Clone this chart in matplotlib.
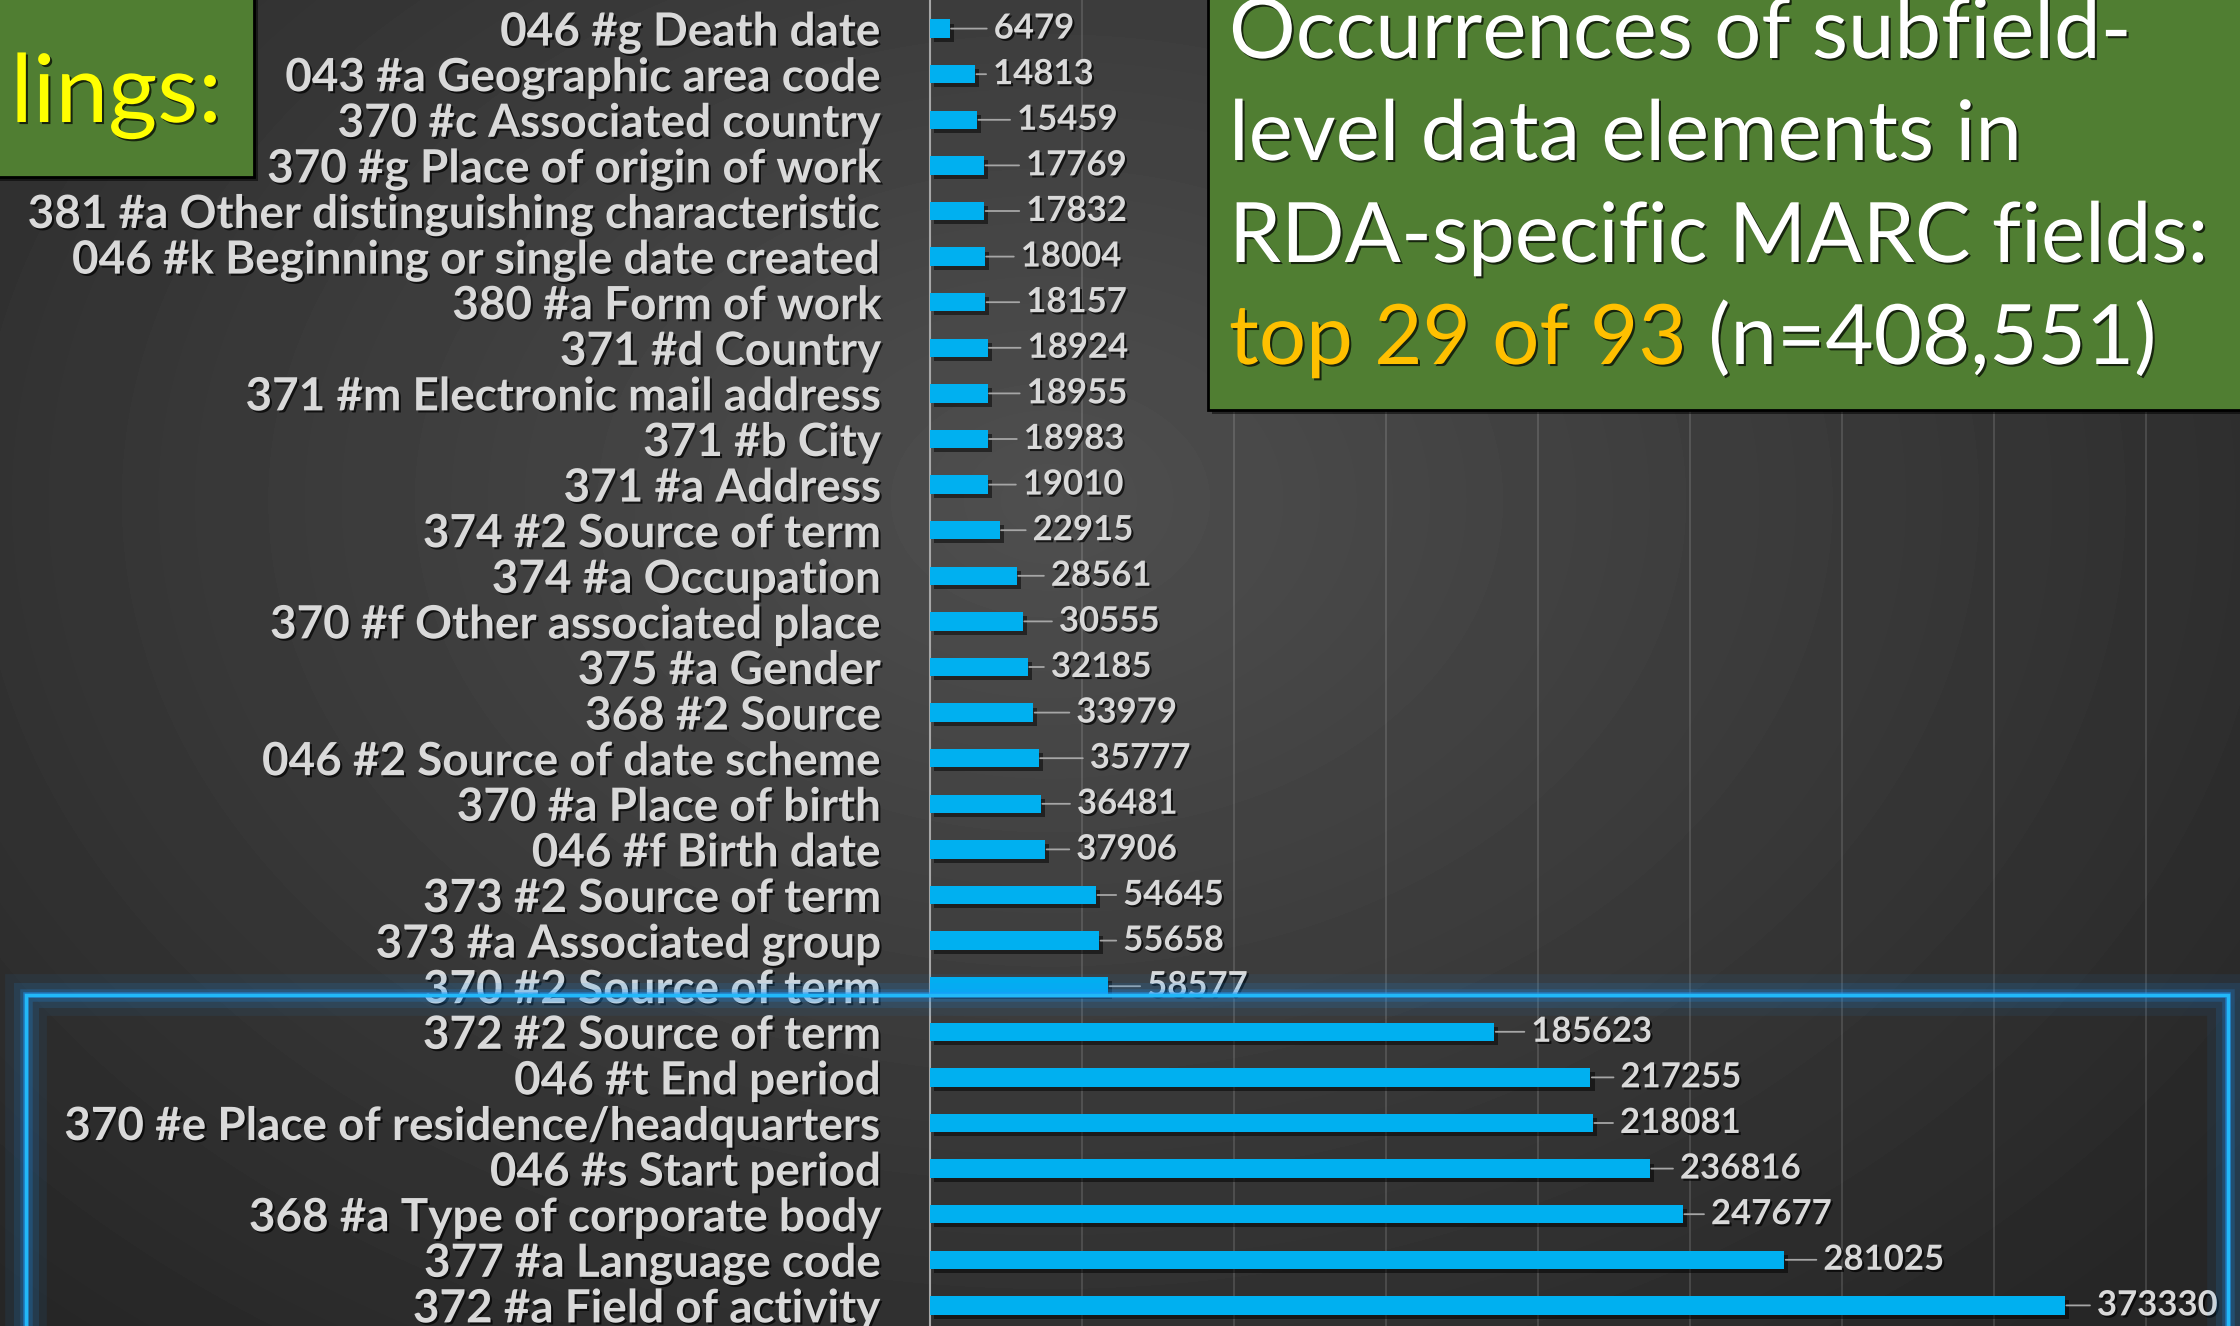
import matplotlib
matplotlib.use("Agg")
import matplotlib.pyplot as plt
import matplotlib.patheffects as pe
from matplotlib.patches import Rectangle
import numpy as np

# datos (de arriba hacia abajo)
categorias = [
    "046 #g Death date",
    "043 #a Geographic area code",
    "370 #c Associated country",
    "370 #g Place of origin of work",
    "381 #a Other distinguishing characteristic",
    "046 #k Beginning or single date created",
    "380 #a Form of work",
    "371 #d Country",
    "371 #m Electronic mail address",
    "371 #b City",
    "371 #a Address",
    "374 #2 Source of term",
    "374 #a Occupation",
    "370 #f Other associated place",
    "375 #a Gender",
    "368 #2 Source",
    "046 #2 Source of date scheme",
    "370 #a Place of birth",
    "046 #f Birth date",
    "373 #2 Source of term",
    "373 #a Associated group",
    "370 #2 Source of term",
    "372 #2 Source of term",
    "046 #t End period",
    "370 #e Place of residence/headquarters",
    "046 #s Start period",
    "368 #a Type of corporate body",
    "377 #a Language code",
    "372 #a Field of activity",
]
valores = [6479, 14813, 15459, 17769, 17832, 18004, 18157, 18924, 18955, 18983,
           19010, 22915, 28561, 30555, 32185, 33979, 35777, 36481, 37906, 54645,
           55658, 58577, 185623, 217255, 218081, 236816, 247677, 281025, 373330]

# separacion (px) entre el final de la barra y la etiqueta
separacion_px = [44, 18, 40, 42, 42, 36, 41, 40, 39, 36, 35, 33, 34, 36, 23,
                 43, 51, 36, 31, 27, 24, 39, 37, 30, 27, 30, 28, 39, 32]

titulo = ["Occurrences of subfield-", "level data elements in",
          "RDA-specific MARC fields:"]
titulo_resaltado = "top 29 of 93"
titulo_resto = " (n=408,551)"

W, H = 2240, 1326
DPI = 100
PT = 72.0 / DPI  # puntos por pixel

plt.rcParams['font.family'] = ['Lato', 'DejaVu Sans']

VERDE = '#507e32'
AZUL = '#00b0f0'
GRIS_TEXTO = '#d9d9d9'

sombra_txt = [pe.SimplePatchShadow(offset=(1.5, -1.5), shadow_rgbFace='black', alpha=0.7),
              pe.Normal()]
sombra_caja = [pe.SimplePatchShadow(offset=(3, -3), shadow_rgbFace='black', alpha=0.5),
               pe.Normal()]

fig = plt.figure(figsize=(W / DPI, H / DPI), dpi=DPI)

# fondo degradado radial
fondo = fig.add_axes([0, 0, 1, 1], zorder=-1)
yy, xx = np.mgrid[0:H, 0:W]
r = np.hypot((xx - 1050) / 1500.0, (yy - 500) / 1100.0)
tono = np.clip(0.31 - 0.16 * r, 0.15, 0.31)
fondo.imshow(tono, cmap='gray', vmin=0, vmax=1, aspect='auto',
             extent=(0, 1, 0, 1), origin='upper', interpolation='bilinear')
fondo.set_xlim(0, 1)
fondo.set_ylim(0, 1)
fondo.axis('off')

# grafico de barras
x0 = 930
escala = 0.00304  # px por unidad
ax = fig.add_axes([x0 / W, 0, 1 - x0 / W, 1])
ax.set_facecolor('none')
pos = np.arange(len(categorias))
ax.barh(pos, valores, height=0.4, color=AZUL, zorder=3, path_effects=sombra_caja)
ax.set_xlim(0, (W - x0) / escala)
paso = 45.6
ax.set_ylim((H - 28.6) / paso, -28.6 / paso)

ax.set_yticks(pos, categorias)
ax.tick_params(axis='y', length=0, pad=(x0 - 881) * PT, labelsize=33, labelcolor=GRIS_TEXTO)
for lbl in ax.get_yticklabels():
    lbl.set_fontweight('bold')
    lbl.set_path_effects(sombra_txt)

ax.set_xticks(np.arange(50000, 450000, 50000))
ax.tick_params(axis='x', length=0, labelbottom=False)
ax.grid(axis='x', color='white', alpha=0.13, lw=1.5, zorder=0)
for lado in ['top', 'right', 'bottom']:
    ax.spines[lado].set_visible(False)
ax.spines['left'].set_color('#a6a6a6')
ax.spines['left'].set_linewidth(1.5)

for i, v in enumerate(valores):
    ax.annotate(str(v), xy=(v, i), xytext=(separacion_px[i] * PT, 0),
                textcoords='offset points', ha='left', va='center',
                fontsize=25, fontweight='bold', color=GRIS_TEXTO,
                path_effects=sombra_txt, zorder=5,
                arrowprops=dict(arrowstyle='-', color='#a6a6a6', lw=1.3,
                                shrinkA=3, shrinkB=1))

# caja del titulo
fig.add_artist(Rectangle((1208 / W, 1 - 410 / H), (W - 1208) / W + 0.02, 410 / H + 0.02,
                         transform=fig.transFigure, facecolor=VERDE, edgecolor='black',
                         lw=2, zorder=10, path_effects=sombra_caja))
base = [58, 160, 262, 364]
for k, linea in enumerate(titulo):
    fig.text(1229 / W, 1 - base[k] / H, linea, color='white', fontsize=60,
             va='baseline', ha='left', zorder=11, path_effects=sombra_txt)
t4 = fig.text(1229 / W, 1 - base[3] / H, titulo_resaltado, color='#ffc000', fontsize=60,
              va='baseline', ha='left', zorder=11, path_effects=sombra_txt)
fig.canvas.draw()
bb = t4.get_window_extent()
fig.text(bb.x1 / W, 1 - base[3] / H, titulo_resto, color='white', fontsize=60,
         va='baseline', ha='left', zorder=11, path_effects=sombra_txt)

# caja recortada de la izquierda
fig.add_artist(Rectangle((-0.02, 1 - 177 / H), 254 / W + 0.02, 177 / H + 0.02,
                         transform=fig.transFigure, facecolor=VERDE, edgecolor='black',
                         lw=2, zorder=10, path_effects=sombra_caja))
fig.text(222 / W, 1 - 122 / H, "lings:", color='#ffff00', fontsize=68,
         va='baseline', ha='right', zorder=11, path_effects=sombra_txt)

# recuadro resaltado con brillo
for lw, a in [(30, 0.07), (18, 0.12), (9, 0.2), (4, 0.5)]:
    fig.add_artist(Rectangle((26 / W, -0.1), (2228 - 26) / W, (H - 995) / H + 0.1,
                             transform=fig.transFigure, facecolor='none',
                             edgecolor='#1e9bff', lw=lw, alpha=a, zorder=12))
fig.add_artist(Rectangle((26 / W, -0.1), (2228 - 26) / W, (H - 995) / H + 0.1,
                         transform=fig.transFigure, facecolor='none',
                         edgecolor='#22b8f8', lw=2.5, zorder=13))

fig.savefig("out.png", dpi=DPI)
